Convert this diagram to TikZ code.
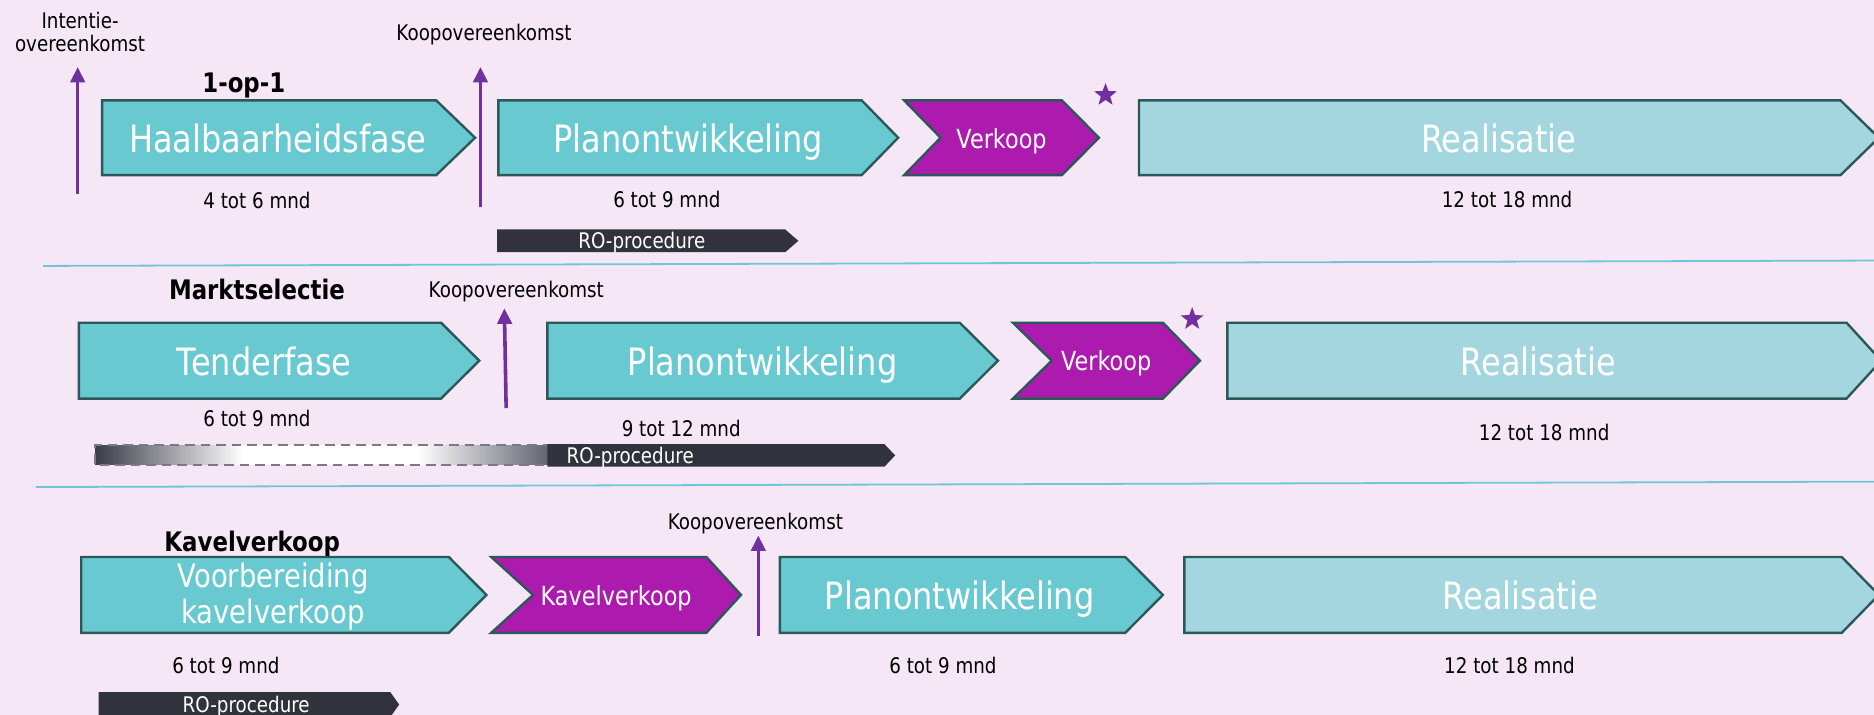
\documentclass[tikz,border=0pt]{standalone}
\usepackage{fontspec}
\setmainfont[FakeStretch=0.85]{DejaVu Sans}
\usetikzlibrary{arrows.meta,shapes.geometric}
\definecolor{bgc}{RGB}{246,231,246}
\definecolor{tealc}{RGB}{104,201,208}
\definecolor{edgec}{RGB}{44,88,90}
\definecolor{purc}{RGB}{172,26,174}
\definecolor{realc}{RGB}{163,214,223}
\definecolor{arrc}{RGB}{112,48,160}
\definecolor{barc}{RGB}{50,50,60}
\definecolor{sepc}{RGB}{110,200,212}
\definecolor{gradA}{RGB}{60,60,72}
\definecolor{gradB}{RGB}{95,95,108}
\definecolor{dashc}{RGB}{125,120,130}
\newcommand\pentashape[6]{\path[#1] (#2,#3) -- (#5,#3) -- (#6,{(#3+#4)/2}) -- (#5,#4) -- (#2,#4) -- cycle;}
\newcommand\chevshape[7]{\path[#1] (#2,#3) -- (#5,#3) -- (#6,{(#3+#4)/2}) -- (#5,#4) -- (#2,#4) -- (#7,{(#3+#4)/2}) -- cycle;}
\begin{document}
\begin{tikzpicture}[x=1pt,y=-1pt,
  boxteal/.style={fill=tealc,draw=edgec,line width=2pt,line join=miter},
  boxpur/.style={fill=purc,draw=edgec,line width=2pt,line join=miter},
  boxreal/.style={fill=realc,draw=edgec,line width=2pt,line join=miter},
  robar/.style={fill=barc},
  bigtxt/.style={inner sep=0pt,text height=23.9pt,text depth=0pt,text=white,font=\fontsize{31.5}{36}\selectfont},
  midtxt/.style={inner sep=0pt,text height=16.7pt,text depth=0pt,text=white,font=\fontsize{22}{26}\selectfont},
  smalltxt/.style={inner sep=0pt,text height=13.7pt,text depth=0pt,text=black,font=\fontsize{18}{21}\selectfont},
  rotxt/.style={inner sep=0pt,text height=13.7pt,text depth=0pt,text=white,font=\fontsize{18}{21}\selectfont},
  boldtxt/.style={inner sep=0pt,text height=17.1pt,text depth=0pt,text=black,font=\bfseries\fontsize{22.5}{25}\selectfont},
  koop/.style={draw=arrc,line width=3pt,-{Triangle[width=12pt,length=13pt]}},
  sepline/.style={draw=sepc,line width=1.5pt},
  starmark/.style={star,star points=5,star point ratio=2.4,fill=arrc,inner sep=0pt,minimum size=20pt}]
\fill[bgc] (0,0) rectangle (1568,598);
\useasboundingbox (0,0) rectangle (1568,598);

% ---------- Row 1 ----------
\node[inner sep=0pt,text=black,align=center,font=\fontsize{18}{19.5}\selectfont] (intlab) at (67,27) {Intentie-\\overeenkomst};
\coordinate (a1s) at (65,162); \coordinate (a1e) at (65,56);
\draw[koop] (a1s) -- (a1e);
\node[boldtxt] (t1) at (204,69) {1-op-1};
\pentashape{boxteal}{85.5}{84}{146.5}{365}{397.5}
\node[bigtxt] (haal) at (232.5,116) {Haalbaarheidsfase};
\node[smalltxt] (d11) at (215,168) {4 tot 6 mnd};
\node[smalltxt] (k1lab) at (405,27) {Koopovereenkomst};
\coordinate (a2s) at (402,173); \coordinate (a2e) at (402,56);
\draw[koop] (a2s) -- (a2e);
\pentashape{boxteal}{417}{84}{146.5}{721}{751.5}
\node[bigtxt] (plan1) at (576,116) {Planontwikkeling};
\node[smalltxt] (d12) at (558,167) {6 tot 9 mnd};
\pentashape{robar}{416}{192}{211}{657}{668}
\node[rotxt] (ro1) at (537,201) {RO-procedure};
\chevshape{boxpur}{756.5}{84}{146.5}{888.5}{919.5}{787}
\node[midtxt] (verk1) at (838,116) {Verkoop};
\node[starmark] (star1) at (925,79.5) {};
\pentashape{boxreal}{953}{84}{146.5}{1540}{1572}
\node[bigtxt] (real1) at (1254,116) {Realisatie};
\node[smalltxt] (d13) at (1261,167) {12 tot 18 mnd};

\coordinate (s1a) at (36,222.5); \coordinate (s1b) at (1568,218);
\draw[sepline] (s1a) -- (s1b);

% ---------- Row 2 ----------
\node[boldtxt] (t2) at (215,242) {Marktselectie};
\node[smalltxt] (k2lab) at (432,242) {Koopovereenkomst};
\coordinate (a3s) at (423.5,341.5); \coordinate (a3e) at (422,258);
\draw[koop] (a3s) -- (a3e);
\pentashape{boxteal}{66}{270}{333.5}{369}{401}
\node[bigtxt] (tender) at (221,302) {Tenderfase};
\node[smalltxt] (d21) at (215,350) {6 tot 9 mnd};
\shade[left color=gradA,right color=white] (79.5,372.4) rectangle (203,389);
\fill[white] (203,372.4) rectangle (349,389);
\shade[left color=white,right color=gradB] (349,372.4) rectangle (462,389);
\draw[dashc,line width=2.2pt,dash pattern=on 8pt off 5pt] (462,372.4) -- (79.5,372.4) -- (79.5,389) -- (462,389);
\pentashape{robar}{458}{371.6}{390.5}{740}{749}
\node[rotxt,anchor=west] (ro2) at (474,381) {RO-procedure};
\pentashape{boxteal}{458}{270}{333.5}{803}{835}
\node[bigtxt] (plan2) at (638,302) {Planontwikkeling};
\node[smalltxt] (d22) at (570,358) {9 tot 12 mnd};
\chevshape{boxpur}{847.5}{270}{333.5}{973}{1004}{880}
\node[midtxt] (verk2) at (925.5,302) {Verkoop};
\node[starmark] (star2) at (997.5,267) {};
\pentashape{boxreal}{1027}{270}{333.5}{1545}{1574}
\node[bigtxt] (real2) at (1287,302) {Realisatie};
\node[smalltxt] (d23) at (1292,362) {12 tot 18 mnd};

\coordinate (s2a) at (30,407.5); \coordinate (s2b) at (1568,403);
\draw[sepline] (s2a) -- (s2b);

% ---------- Row 3 ----------
\node[boldtxt] (t3) at (211,453) {Kavelverkoop};
\pentashape{boxteal}{68}{466}{529.5}{375.5}{407}
\node[inner sep=0pt,text=white,align=center,font=\fontsize{27}{30}\selectfont] (voorb) at (228.5,499) {Voorbereiding\\kavelverkoop};
\node[smalltxt] (d31) at (189,557) {6 tot 9 mnd};
\pentashape{robar}{82.5}{579}{600}{326.5}{334}
\node[rotxt] (ro3) at (206,589) {RO-procedure};
\chevshape{boxpur}{411}{466}{529.5}{591}{620}{446}
\node[midtxt] (kavel) at (515.5,498) {Kavelverkoop};
\node[smalltxt] (k3lab) at (632,436) {Koopovereenkomst};
\coordinate (a4s) at (634.5,532); \coordinate (a4e) at (634.5,448);
\draw[koop] (a4s) -- (a4e);
\pentashape{boxteal}{652.5}{466}{529.5}{941.5}{973}
\node[bigtxt] (plan3) at (803,498) {Planontwikkeling};
\node[smalltxt] (d32) at (789,557) {6 tot 9 mnd};
\pentashape{boxreal}{991}{466}{529.5}{1541}{1572}
\node[bigtxt] (real3) at (1272,498) {Realisatie};
\node[smalltxt] (d33) at (1263,557) {12 tot 18 mnd};
\end{tikzpicture}
\end{document}
